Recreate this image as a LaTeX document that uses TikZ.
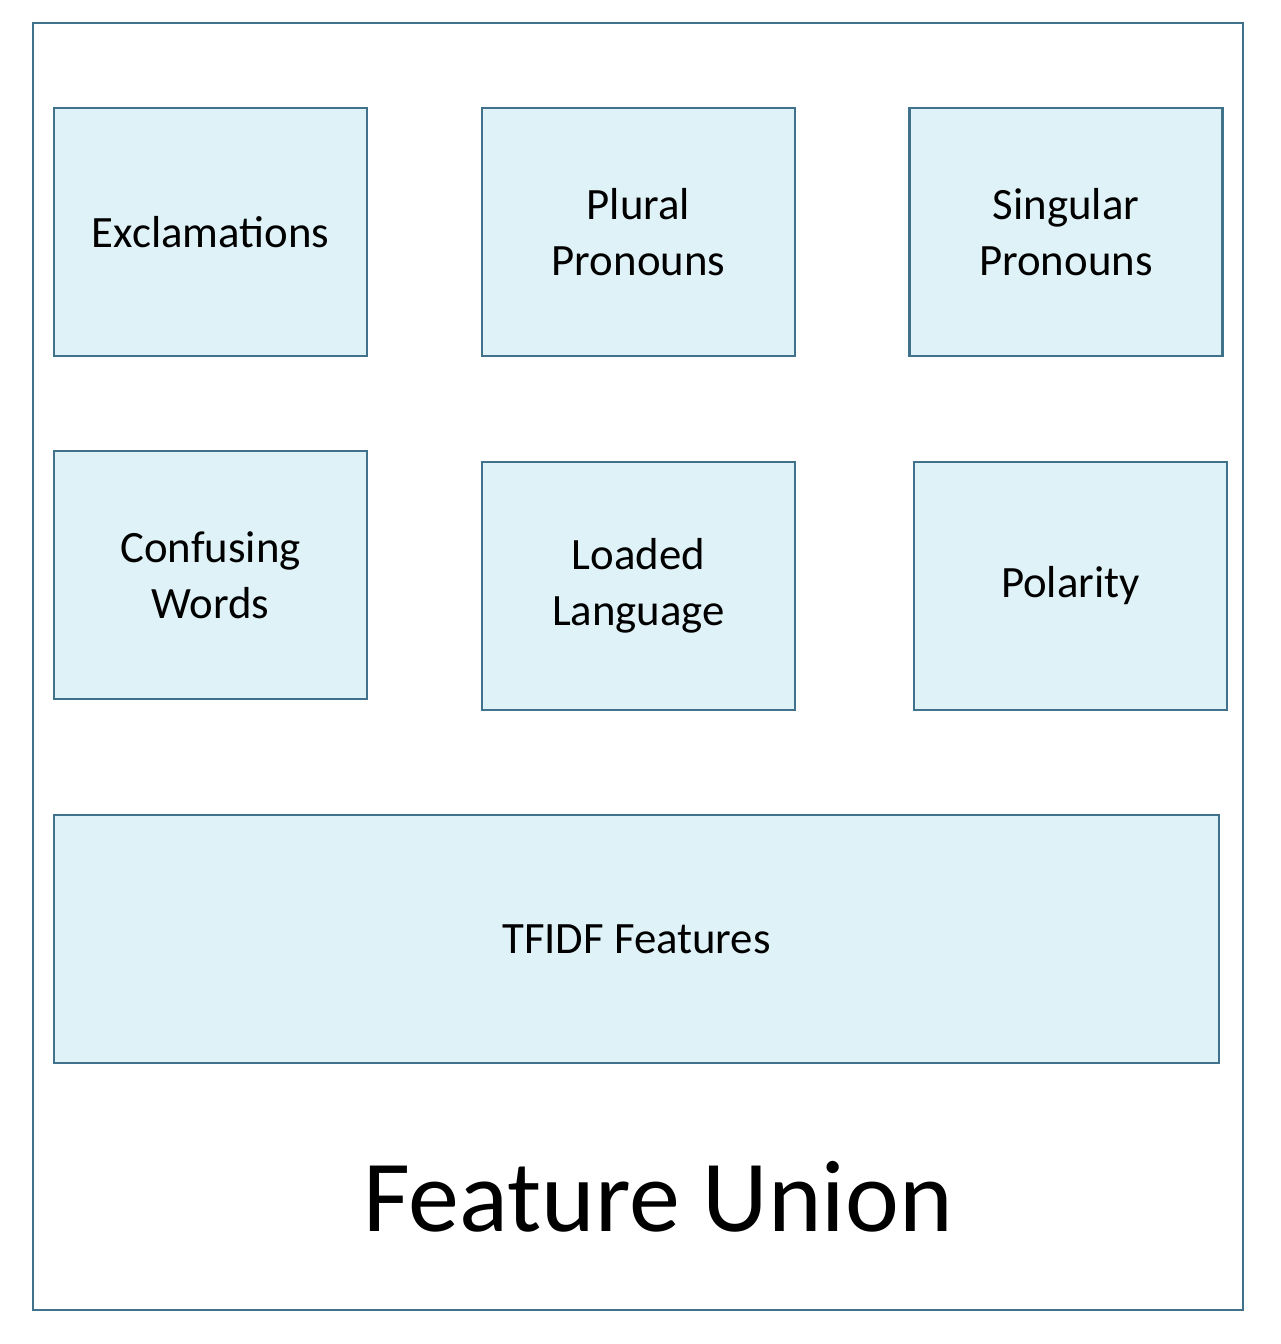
\documentclass[tikz,border=0pt]{standalone}
\usepackage{fontspec}
\setmainfont{Carlito}
\begin{document}
\begin{tikzpicture}[x=0.5pt,y=-0.5pt,
  edgeblue/.style={draw=frameblue, line width=1.1pt},
  featbox/.style={edgeblue, fill=boxfill, inner sep=0pt, align=center,
    minimum width=156.5pt, minimum height=124pt,
    font=\fontsize{22.4}{28}\selectfont},
]
\definecolor{frameblue}{HTML}{41728B}
\definecolor{boxfill}{HTML}{DFF2F7}
\useasboundingbox (0,0) rectangle (1280,1344);
\fill[white] (0,0) rectangle (1280,1344);

% outer container
\node[edgeblue, inner sep=0pt, minimum width=605pt, minimum height=643.5pt]
  (union) at (638,666.5) {};

% first row
\node[featbox] (excl) at (210.5,232) {\raisebox{-1.5pt}{Exclamations}};
\node[featbox] (plural) at (638.5,232) {Plural\\Pronouns};
\node[featbox] (singular) at (1066,232) {Singular\\Pronouns};

% second row
\node[featbox] (confusing) at (210.5,575) {Confusing\\Words};
\node[featbox] (loaded) at (638.5,586) {Loaded\\Language};
\node[featbox] (polarity) at (1070.5,586) {\raisebox{-1.5pt}{Polarity}};

% wide bottom block
\node[featbox, minimum width=582.5pt] (tfidf) at (636.5,939) {\raisebox{-1.5pt}{TFIDF Features}};

% container title
\node[font=\fontsize{51}{61}\selectfont, inner sep=0pt] (title) at (658,1197) {Feature Union};
\end{tikzpicture}
\end{document}
